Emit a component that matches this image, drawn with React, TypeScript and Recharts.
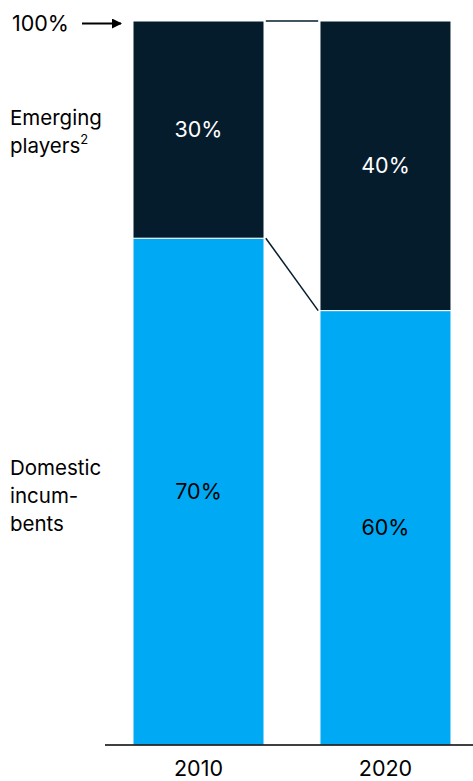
import React from 'react';
import { ComposedChart, Bar, XAxis, YAxis, LabelList, ReferenceLine } from 'recharts';

const years = ['2010', '2020'];
const incumbents = [70, 60];
const emerging = [30, 40];
const totalLabel = '100%';

const data = years.map((y, i) => ({
  idx: i,
  year: y,
  incumbents: incumbents[i],
  emerging: emerging[i],
  total: incumbents[i] + emerging[i],
}));

const DARK = '#051c2c';
const BLUE = '#00a9f4';
const FONT = 'Inter, "DejaVu Sans", "Liberation Sans", Arial, sans-serif';

export default function App() {
  const W = 473;
  const H = 781;
  const half = 0.35;
  return (
    <div style={{ position: 'absolute', left: 0, top: 0, width: W, height: H, background: '#fff', fontFamily: FONT }}>
      <ComposedChart
        width={W}
        height={H}
        data={data}
        margin={{ top: 21, right: 0, bottom: 0, left: 105 }}
        barGap={0}
      >
        <XAxis
          dataKey="idx"
          type="number"
          domain={[-0.5, 1.468]}
          allowDataOverflow
          ticks={[0, 1]}
          tickFormatter={(v: number) => years[v]}
          axisLine={{ stroke: '#000', strokeWidth: 1.5 }}
          tickLine={false}
          tickSize={0}
          tickMargin={16}
          height={36}
          tick={{ fontSize: 21.5, fill: '#000', fontFamily: FONT }}
        />
        <YAxis hide domain={[0, 100]} type="number" />
        <Bar dataKey="incumbents" stackId="a" fill={BLUE} stroke="#fff" strokeWidth={1} barSize={131} isAnimationActive={false}>
          <LabelList dataKey="incumbents" position="center" formatter={(v: number) => `${v}%`} fill="#000" style={{ fontSize: 21.5, fontFamily: FONT }} />
        </Bar>
        <Bar dataKey="emerging" stackId="a" fill={DARK} stroke="#fff" strokeWidth={1} barSize={131} isAnimationActive={false}>
          <LabelList dataKey="emerging" position="center" formatter={(v: number) => `${v}%`} fill="#fff" style={{ fontSize: 21.5, fontFamily: FONT }} />
        </Bar>
        <ReferenceLine
          segment={[{ x: 0 + half + 0.01, y: data[0].total }, { x: 1 - half - 0.01, y: data[1].total }]}
          stroke={DARK}
          strokeWidth={1.5}
          ifOverflow="visible"
        />
        <ReferenceLine
          segment={[{ x: 0 + half + 0.01, y: incumbents[0] }, { x: 1 - half - 0.01, y: incumbents[1] }]}
          stroke={DARK}
          strokeWidth={1.5}
          ifOverflow="visible"
        />
      </ComposedChart>
      <svg width={W} height={H} style={{ position: 'absolute', left: 0, top: 0, pointerEvents: 'none' }}>
        <defs>
          <marker id="ah" markerWidth="10" markerHeight="10" refX="9" refY="5" orient="auto" markerUnits="userSpaceOnUse">
            <path d="M0,0 L10,5 L0,10 z" fill="#000" />
          </marker>
        </defs>
        <text x={12} y={30.5} fontSize={21.5} fill="#000" fontFamily={FONT}>{totalLabel}</text>
        <line x1={82} y1={23.5} x2={121} y2={23.5} stroke="#000" strokeWidth={2} markerEnd="url(#ah)" />
        <text x={10} y={125} fontSize={20.5} fill="#000" fontFamily={FONT}>Emerging</text>
        <text x={10} y={153} fontSize={20.5} fill="#000" fontFamily={FONT}>
          players<tspan fontSize={13} dy={-9}>2</tspan>
        </text>
        <text x={10} y={475} fontSize={20.5} fill="#000" fontFamily={FONT}>Domestic</text>
        <text x={10} y={503} fontSize={20.5} fill="#000" fontFamily={FONT}>incum-</text>
        <text x={10} y={531} fontSize={20.5} fill="#000" fontFamily={FONT}>bents</text>
      </svg>
    </div>
  );
}
